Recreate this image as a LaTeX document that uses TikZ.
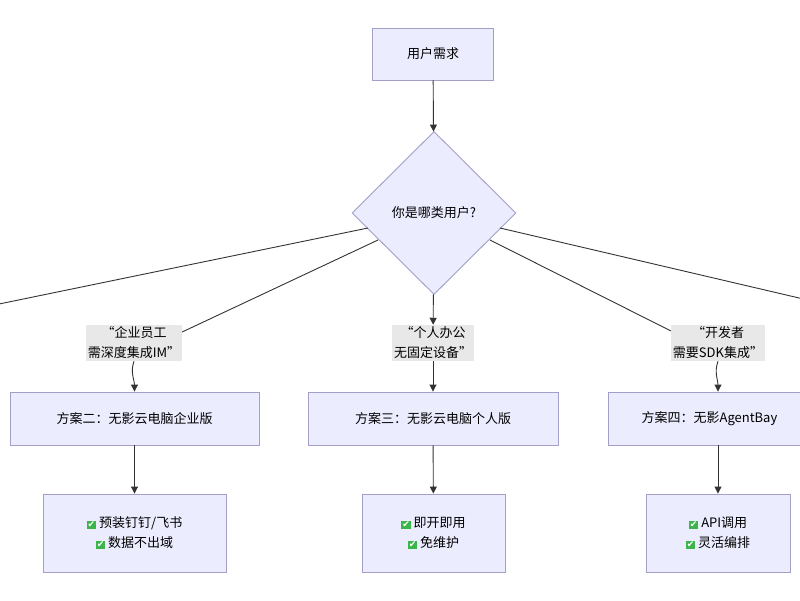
\documentclass[tikz,border=0pt]{standalone}
\usepackage{fontspec}
\setmainfont{Noto Sans CJK SC}
\newfontfamily\djv{DejaVu Sans}
\usetikzlibrary{shapes.geometric,arrows.meta}
\definecolor{nodefill}{HTML}{ECECFF}
\definecolor{nodeline}{HTML}{A39FC8}
\definecolor{lblbg}{HTML}{E8E8E8}
\definecolor{edge}{HTML}{333333}
\definecolor{chkgreen}{HTML}{3BB54A}
\newcommand{\okmark}{{\setlength{\fboxsep}{1pt}\colorbox{chkgreen}{\textcolor{white}{\djv\bfseries\small ✔}}}}
\begin{document}
\begin{tikzpicture}[x=1pt,y=-1pt,
  box/.style={draw=nodeline,fill=nodefill,line width=0.9pt,align=center,font=\fontsize{13}{20}\selectfont,inner sep=0pt},
  lbl/.style={fill=lblbg,align=center,font=\fontsize{13}{20}\selectfont,inner sep=2pt},
  ln/.style={draw=edge,line width=0.9pt},
  arr/.style={ln,-{Triangle[length=7pt,width=7pt]}}]
\useasboundingbox (0,0) rectangle (800,600);
\node[box,minimum width=121pt,minimum height=52pt] (need) at (433,54) {用户需求};
\node[box,diamond,minimum width=164pt,minimum height=163pt] (q) at (434,213) {你是哪类用户?};
\coordinate (farL) at (-200,345);
\coordinate (farR) at (1000,345);
\draw[ln] (368,228) -- (farL);
\draw[ln] (500,228) -- (farR);
\draw[ln] (378,240) -- (180,333);
\draw[ln] (490,240) -- (675,333);
\node[lbl] (l1) at (134,343) {“企业员工\\需深度集成IM”};
\node[lbl] (l2) at (433,343) {“个人办公\\无固定设备”};
\node[lbl] (l3) at (718,343) {“开发者\\需要SDK集成”};
\node[box,minimum width=249pt,minimum height=53pt] (p2) at (134.5,418.5) {方案二：无影云电脑企业版};
\node[box,minimum width=250pt,minimum height=53pt] (p3) at (433,418.5) {方案三：无影云电脑个人版};
\node[box,minimum width=230pt,minimum height=53pt,anchor=west] (p4) at (608,418.5) {\hspace*{-8pt}方案四：无影AgentBay\hspace*{20pt}};
\node[box,minimum width=183pt,minimum height=78pt] (f2) at (134.5,533) {\okmark\ 预装钉钉/飞书\\\okmark\ 数据不出域};
\node[box,minimum width=143pt,minimum height=78pt] (f3) at (433.5,533) {\okmark\ 即开即用\\\okmark\ 免维护};
\node[box,minimum width=144pt,minimum height=78pt] (f4) at (718,533) {\okmark\ API调用\\\okmark\ 灵活编排};
\draw[arr] (need) -- (q);
\draw[arr] (q) -- (l2);
\draw[arr] (l2) -- (p3);
\draw[arr] (l1.south) to[out=-110,in=90] (p2.north);
\draw[arr] (l3.south) to[out=-110,in=90] (p4.north-|f4.north);
\draw[arr] (p2) -- (f2);
\draw[arr] (p3) -- (f3);
\draw[arr] (p4.south-|f4.north) -- (f4);
\end{tikzpicture}
\end{document}
